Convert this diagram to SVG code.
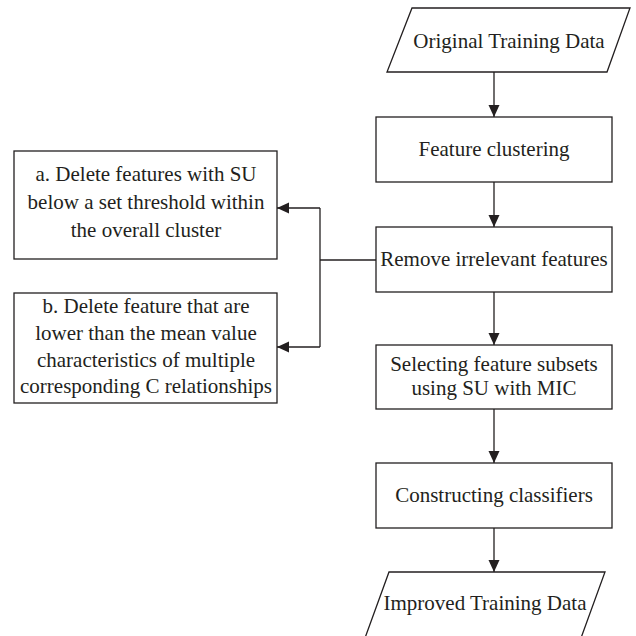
<svg xmlns="http://www.w3.org/2000/svg" width="636" height="636" viewBox="0 0 636 636">
<defs>
<marker id="ah" markerWidth="12" markerHeight="12" refX="12" refY="6" orient="auto" markerUnits="userSpaceOnUse">
<path d="M0,0.5 L12,6 L0,11.5 Z" fill="#231f20"/>
</marker>
</defs>
<style>
.box{fill:#fff;stroke:#231f20;stroke-width:1.3}
.t{font-family:"Liberation Serif","Times New Roman",serif;font-size:21px;fill:#231f20;text-anchor:middle}
.c{fill:none;stroke:#231f20;stroke-width:1.3}
</style>
<rect width="636" height="636" fill="#fff"/>
<g id="connectors">
<line class="c" x1="494" y1="72" x2="494" y2="117" marker-end="url(#ah)"/>
<line class="c" x1="494" y1="182" x2="494" y2="227" marker-end="url(#ah)"/>
<line class="c" x1="494" y1="292" x2="494" y2="345" marker-end="url(#ah)"/>
<line class="c" x1="494" y1="409" x2="494" y2="463" marker-end="url(#ah)"/>
<line class="c" x1="494" y1="528" x2="494" y2="572" marker-end="url(#ah)"/>
<polyline class="c" points="376,260 320,260"/>
<line class="c" x1="320" y1="208" x2="320" y2="347"/>
<line class="c" x1="320" y1="208" x2="277" y2="208" marker-end="url(#ah)"/>
<line class="c" x1="320" y1="347" x2="277" y2="347" marker-end="url(#ah)"/>
</g>
<g id="original">
<polygon class="box" points="412,8 630,8 607,72 387,72"/>
<text class="t" x="509" y="48">Original Training Data</text>
</g>
<g id="clustering">
<rect class="box" x="376" y="117" width="236" height="65"/>
<text class="t" x="494" y="156">Feature clustering</text>
</g>
<g id="remove">
<rect class="box" x="376" y="227" width="236" height="65"/>
<text class="t" x="494" y="266">Remove irrelevant features</text>
</g>
<g id="select">
<rect class="box" x="376" y="345" width="236" height="64"/>
<text class="t" x="494" y="371">Selecting feature subsets</text>
<text class="t" x="494" y="395">using SU with MIC</text>
</g>
<g id="construct">
<rect class="box" x="376" y="463" width="236" height="65"/>
<text class="t" x="494" y="502">Constructing classifiers</text>
</g>
<g id="improved">
<polygon class="box" points="389,572 605,572 581,638 365,638"/>
<text class="t" x="485" y="610">Improved Training Data</text>
</g>
<g id="deleteA">
<rect class="box" x="14" y="151" width="263" height="108"/>
<text class="t" x="146" y="181">a. Delete features with SU</text>
<text class="t" x="146" y="209">below a set threshold within</text>
<text class="t" x="146" y="237">the overall cluster</text>
</g>
<g id="deleteB">
<rect class="box" x="14" y="293" width="263" height="110"/>
<text class="t" x="146" y="313">b. Delete feature that are</text>
<text class="t" x="146" y="340">lower than the mean value</text>
<text class="t" x="146" y="367">characteristics of multiple</text>
<text class="t" x="146" y="393">corresponding C relationships</text>
</g>
</svg>
